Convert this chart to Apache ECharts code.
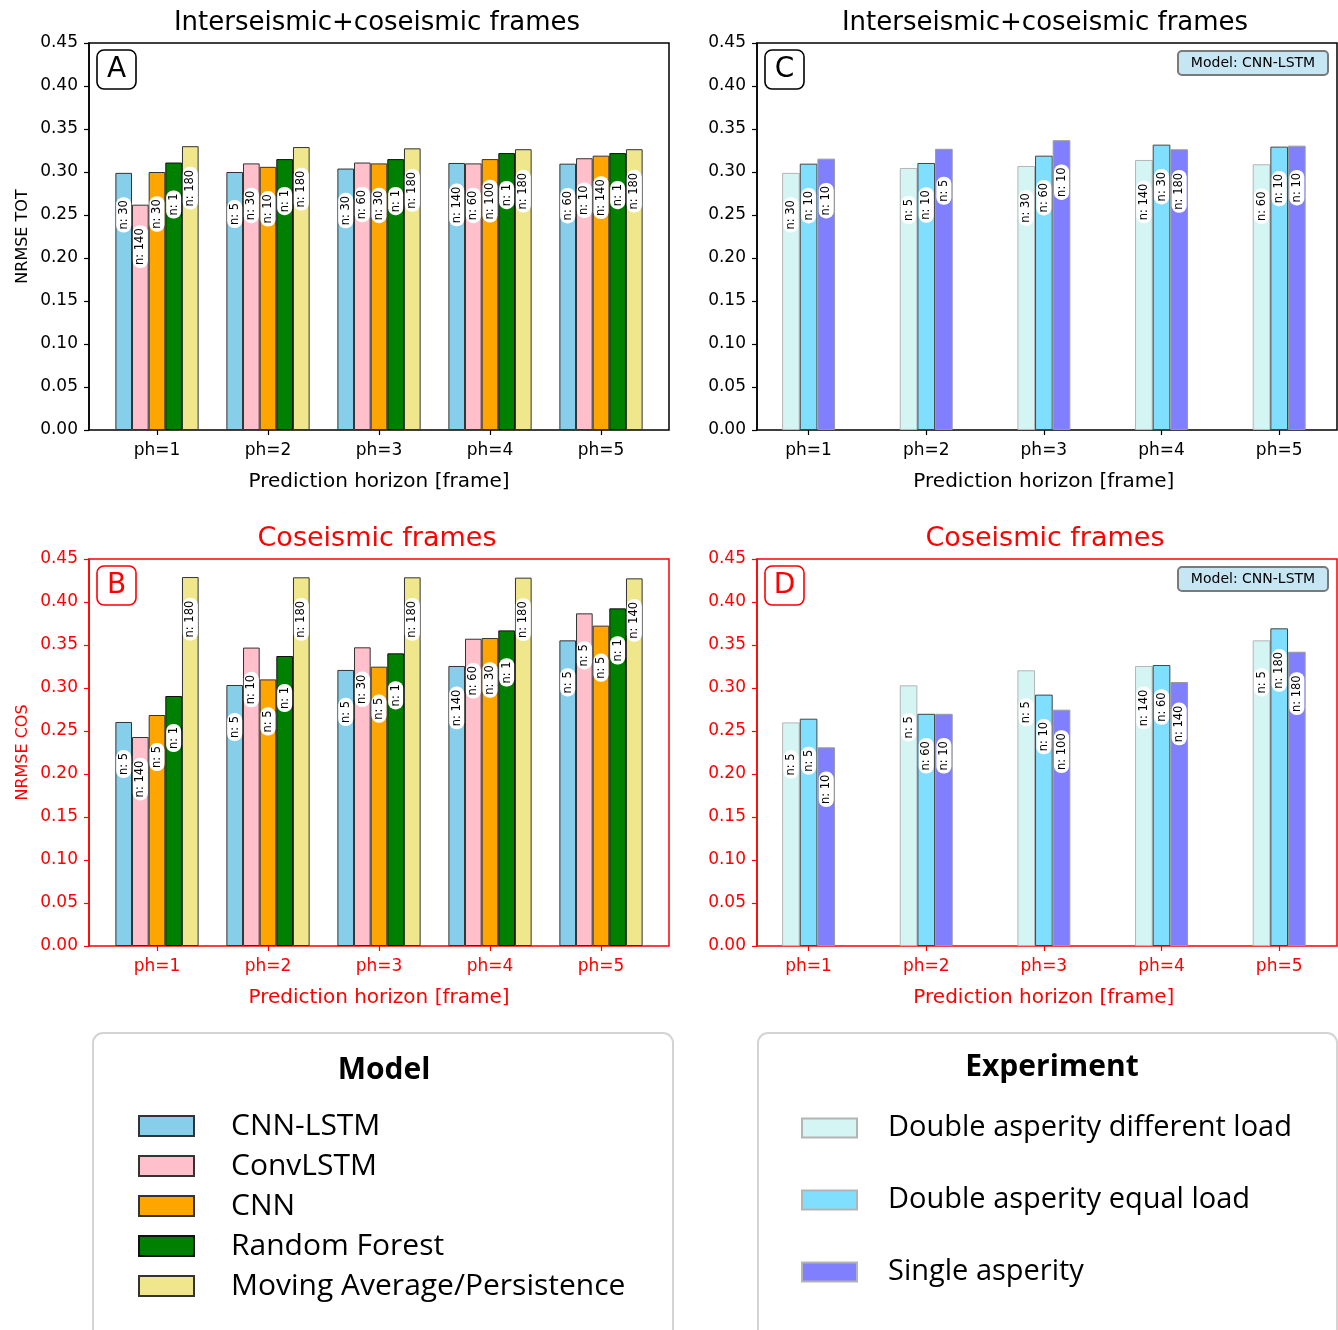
<!DOCTYPE html>
<html>
<head>
<meta charset="utf-8">
<script src="https://cdn.jsdelivr.net/npm/echarts@6/dist/echarts.min.js"></script>
<style>
  html, body { margin: 0; padding: 0; background: #fff; }
  #chart { width: 1338px; height: 1330px; }
</style>
</head>
<body>
<div id="chart"></div>
<script>
// x categories
var horizons = ['ph=1', 'ph=2', 'ph=3', 'ph=4', 'ph=5'];
var models = ['CNN-LSTM', 'ConvLSTM', 'CNN', 'Random Forest', 'Moving Average/Persistence'];
var experiments = ['Double asperity different load', 'Double asperity equal load', 'Single asperity'];

// A: NRMSE TOT per model (rows = model, columns = ph)
var totModel = [
    [0.299, 0.300, 0.304, 0.3105, 0.3097],
    [0.262, 0.310, 0.311, 0.310, 0.316],
    [0.300, 0.306, 0.310, 0.315, 0.319],
    [0.311, 0.315, 0.315, 0.322, 0.322],
    [0.330, 0.329, 0.3275, 0.3265, 0.3265]
];
var totModelN = [
    [30, 5, 30, 140, 60],
    [140, 30, 60, 60, 10],
    [30, 10, 30, 100, 140],
    [1, 1, 1, 1, 1],
    [180, 180, 180, 180, 180]
];
// B: NRMSE COS per model
var cosModel = [
    [0.2605, 0.3035, 0.321, 0.3256, 0.3554],
    [0.243, 0.347, 0.3473, 0.3573, 0.3868],
    [0.2686, 0.310, 0.3248, 0.3581, 0.3725],
    [0.2907, 0.3372, 0.3403, 0.367, 0.3926],
    [0.429, 0.4287, 0.4287, 0.4283, 0.4275]
];
var cosModelN = [
    [5, 5, 5, 140, 5],
    [140, 10, 30, 60, 5],
    [5, 5, 5, 30, 5],
    [1, 1, 1, 1, 1],
    [180, 180, 180, 180, 140]
];
// C: NRMSE TOT per experiment (CNN-LSTM)
var totExp = [
    [0.299, 0.3047, 0.307, 0.314, 0.309],
    [0.3097, 0.3105, 0.319, 0.3318, 0.3295],
    [0.3155, 0.327, 0.337, 0.3264, 0.3306]
];
var totExpN = [
    [30, 5, 30, 140, 60],
    [10, 10, 60, 30, 10],
    [10, 5, 10, 180, 10]
];
// D: NRMSE COS per experiment (CNN-LSTM)
var cosExp = [
    [0.260, 0.3031, 0.3206, 0.3256, 0.3554],
    [0.2643, 0.270, 0.2923, 0.3267, 0.3694],
    [0.231, 0.270, 0.2748, 0.307, 0.3422]
];
var cosExpN = [
    [5, 5, 5, 140, 5],
    [5, 60, 10, 60, 180],
    [10, 10, 100, 140, 180]
];

var modelColors = ['#87ceeb', '#ffc0cb', '#ffa500', '#008000', '#f0e68c'];
var modelBorders = ['#333', '#333', '#333', '#111', '#333'];
var expColors = ['#d5f5f5', '#80dfff', '#8080ff'];
var expBorders = ['#b4b4b4', '#444', '#9a9a9a'];

var AX = 'DejaVu Sans';
var LEG = 'Open Sans';

var panels = [
    { frame: [89, 43, 580, 387], bar: [101.5, 555], values: totModel, counts: totModelN, names: models,
      colors: modelColors, borders: modelBorders, color: '#000', yName: 'NRMSE TOT', letter: 'A',
      title: 'Interseismic+coseismic frames', titleSize: 26, tag: false },
    { frame: [89, 559, 580, 387], bar: [101.5, 555], values: cosModel, counts: cosModelN, names: models,
      colors: modelColors, borders: modelBorders, color: '#ff0000', yName: 'NRMSE COS', letter: 'B',
      title: 'Coseismic frames', titleSize: 27, tag: false },
    { frame: [757, 43, 580, 387], bar: [749.75, 592.5], values: totExp, counts: totExpN, names: experiments,
      colors: expColors, borders: expBorders, color: '#000', yName: '', letter: 'C',
      title: 'Interseismic+coseismic frames', titleSize: 26, tag: true },
    { frame: [757, 559, 580, 387], bar: [749.75, 592.5], values: cosExp, counts: cosExpN, names: experiments,
      colors: expColors, borders: expBorders, color: '#ff0000', yName: '', letter: 'D',
      title: 'Coseismic frames', titleSize: 27, tag: true }
];

var grid = [], xAxis = [], yAxis = [], series = [], graphic = [];

panels.forEach(function (p, k) {
    var fi = 2 * k, bi = 2 * k + 1;
    var f = p.frame;
    // frame grid (border + visible y axis)
    grid.push({ left: f[0], top: f[1], width: f[2], height: f[3], show: true,
                borderColor: p.color, borderWidth: 1.5, backgroundColor: 'transparent' });
    // bar grid (category spacing like the original)
    grid.push({ left: p.bar[0], top: f[1], width: p.bar[1], height: f[3] });

    xAxis.push({ gridIndex: fi, type: 'value', show: false, min: 0, max: 1 });
    xAxis.push({
        gridIndex: bi, type: 'category', data: horizons,
        axisLine: { show: false },
        axisTick: { show: true, alignWithLabel: true, length: 5, lineStyle: { color: p.color, width: 1.2 } },
        axisLabel: { fontFamily: AX, fontSize: 17, color: p.color, margin: 12 },
        name: 'Prediction horizon [frame]', nameLocation: 'middle', nameGap: 42,
        nameTextStyle: { fontFamily: AX, fontSize: 20, color: p.color }
    });
    yAxis.push({
        gridIndex: fi, type: 'value', min: 0, max: 0.45, interval: 0.05,
        axisLine: { show: true, lineStyle: { color: p.color, width: 1.5 } },
        axisTick: { show: true, length: 5, lineStyle: { color: p.color, width: 1.2 } },
        axisLabel: { fontFamily: AX, fontSize: 17, color: p.color, margin: 11,
                     formatter: function (v) { return v.toFixed(2); } },
        splitLine: { show: false },
        name: p.yName, nameLocation: 'middle', nameGap: 58,
        nameTextStyle: { fontFamily: AX, fontSize: 16, color: p.color }
    });
    yAxis.push({ gridIndex: bi, type: 'value', min: 0, max: 0.45, show: false });

    p.names.forEach(function (name, i) {
        series.push({
            name: name, type: 'bar', xAxisIndex: bi, yAxisIndex: bi,
            barWidth: '15%', barGap: '0%',
            data: p.values[i],
            itemStyle: { color: p.colors[i], borderColor: p.borders[i], borderWidth: 1 },
            label: {
                show: true, position: ['50%', 42], rotate: 90,
                align: 'center', verticalAlign: 'middle',
                formatter: function (d) { return 'n: ' + p.counts[i][d.dataIndex]; },
                fontFamily: AX, fontSize: 11.5, color: '#000',
                backgroundColor: '#fff', borderRadius: 7, padding: [2, 3, 1, 3]
            },
            emphasis: { disabled: true }
        });
    });

    // panel title
    graphic.push({ type: 'text', x: f[0] + f[2] / 2 - 2, y: f[1] - 20,
        style: { text: p.title, fill: p.color, font: p.titleSize + 'px "DejaVu Sans"',
                 textAlign: 'center', textVerticalAlign: 'middle' } });
    // panel letter
    graphic.push({ type: 'rect', shape: { x: f[0] + 8, y: f[1] + 7, width: 39, height: 39, r: 7 },
        style: { fill: '#fff', stroke: p.color, lineWidth: 1.6 }, z: 10 });
    graphic.push({ type: 'text', x: f[0] + 27.5, y: f[1] + 27,
        style: { text: p.letter, fill: p.color, font: '28px "DejaVu Sans"',
                 textAlign: 'center', textVerticalAlign: 'middle' }, z: 11 });
    if (p.tag) {
        graphic.push({ type: 'rect', shape: { x: f[0] + 421, y: f[1] + 8, width: 150, height: 24, r: 4 },
            style: { fill: '#c6e6f3', stroke: '#7a7a7a', lineWidth: 2 }, z: 10 });
        graphic.push({ type: 'text', x: f[0] + 496, y: f[1] + 20.5,
            style: { text: 'Model: CNN-LSTM', fill: '#000', font: '14px "DejaVu Sans"',
                     textAlign: 'center', textVerticalAlign: 'middle' }, z: 11 });
    }
});

// legend frames and titles
graphic.push({ type: 'rect', shape: { x: 93, y: 1033, width: 580, height: 320, r: 10 },
    style: { fill: '#fff', stroke: '#d4d4d4', lineWidth: 2 }, z: -1 });
graphic.push({ type: 'text', x: 384, y: 1070,
    style: { text: 'Model', fill: '#000', font: 'bold 30px "Open Sans"',
             textAlign: 'center', textVerticalAlign: 'middle' } });
graphic.push({ type: 'rect', shape: { x: 758, y: 1033, width: 579, height: 320, r: 10 },
    style: { fill: '#fff', stroke: '#d4d4d4', lineWidth: 2 }, z: -1 });
graphic.push({ type: 'text', x: 1052, y: 1067,
    style: { text: 'Experiment', fill: '#000', font: 'bold 30px "Open Sans"',
             textAlign: 'center', textVerticalAlign: 'middle' } });

var chart = echarts.init(document.getElementById('chart'), null, { renderer: 'canvas' });
chart.setOption({
    animation: false,
    backgroundColor: '#fff',
    grid: grid,
    xAxis: xAxis,
    yAxis: yAxis,
    series: series,
    graphic: graphic,
    legend: [
        { data: models, orient: 'vertical', left: 138, top: 1106, padding: 0, icon: 'rect',
          itemWidth: 55, itemHeight: 20, itemGap: 0, selectedMode: false,
          textStyle: { fontFamily: LEG, fontSize: 30, lineHeight: 40, color: '#000', padding: [0, 0, 0, 32] } },
        { data: experiments.map(function (name) {
              return { name: name, itemStyle: { borderColor: '#b4b4b4' } };
          }),
          orient: 'vertical', left: 801, top: 1092, padding: 0, icon: 'rect',
          itemWidth: 55, itemHeight: 19, itemGap: 0, selectedMode: false,
          textStyle: { fontFamily: LEG, fontSize: 29, lineHeight: 72, color: '#000', padding: [0, 0, 0, 26] } }
    ]
});
</script>
</body>
</html>
